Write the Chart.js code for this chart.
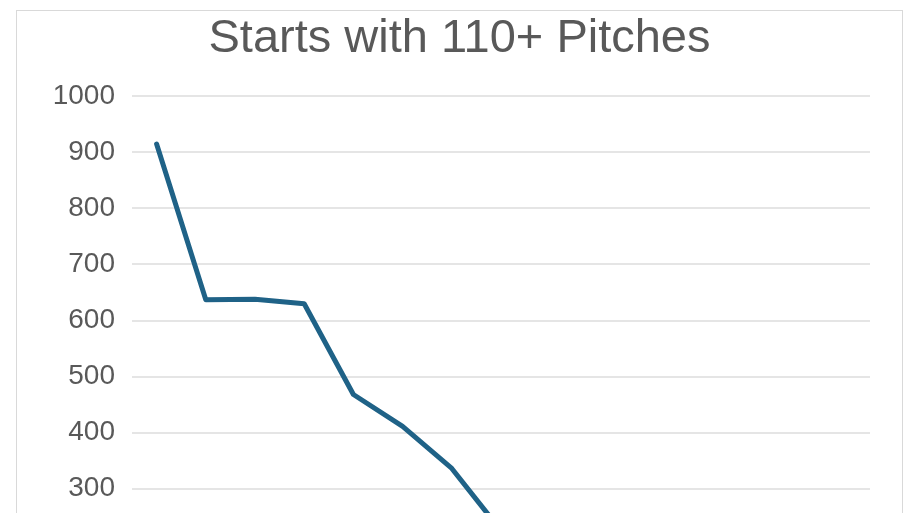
<!DOCTYPE html>
<html>
<head>
<meta charset="utf-8">
<script src="https://cdn.jsdelivr.net/npm/chart.js@4.4.1/dist/chart.umd.min.js"></script>
<style>
  html, body { margin: 0; padding: 0; background: #fff; overflow: hidden; }
  #caja {
    position: absolute;
    left: 16px;
    top: 10px;
    width: 885px;
    height: 739px;
    border: 1px solid #d9d9d9;
    background: #fff;
  }
</style>
</head>
<body>
<div id="caja"><canvas id="grafico"></canvas></div>
<script>
// datos (la parte de abajo queda fuera de la imagen)
const temporadas = ["2002", "2003", "2004", "2005", "2006", "2007", "2008", "2009",
  "2010", "2011", "2012", "2013", "2014", "2015", "2016"];
const inicios110 = [915, 637, 638, 630, 468, 411, 336, 225, 160, 115, 80, 55, 35, 22, 12];
const marcasY = [0, 100, 200, 300, 400, 500, 600, 700, 800, 900, 1000];

const colorLinea = "#1f6287";
const colorTexto = "#595959";
const colorGrilla = "#e5e5e5";
const fuente = "'Liberation Sans', Arial, sans-serif";

const canvas = document.getElementById("grafico");

new Chart(canvas, {
  type: "line",
  data: {
    labels: temporadas,
    datasets: [
      {
        label: "Starts with 110+ Pitches",
        data: inicios110,
        borderColor: colorLinea,
        backgroundColor: colorLinea,
        borderWidth: 5,
        borderJoinStyle: "round",
        borderCapStyle: "round",
        pointRadius: 0,
        tension: 0,
      },
    ],
  },
  options: {
    responsive: true,
    maintainAspectRatio: false,
    animation: false,
    layout: {
      padding: { left: 32, right: 32, top: 0, bottom: 10 },
    },
    plugins: {
      legend: { display: false },
      tooltip: { enabled: false },
      title: {
        display: true,
        text: "Starts with 110+ Pitches",
        color: colorTexto,
        font: { family: fuente, size: 47, weight: "normal" },
        padding: { top: 0, bottom: 29 },
      },
    },
    scales: {
      x: {
        offset: true,
        grid: { display: false },
        border: { display: true, color: "#d9d9d9" },
        ticks: {
          color: colorTexto,
          font: { family: fuente, size: 28 },
        },
      },
      y: {
        min: 0,
        max: 1000,
        afterBuildTicks: (scale) => {
          scale.ticks = marcasY.map((v) => ({ value: v }));
        },
        afterFit: (scale) => {
          scale.width = 83;
        },
        grid: { color: colorGrilla, lineWidth: 2, drawTicks: false },
        border: { display: false },
        ticks: {
          color: colorTexto,
          padding: 17,
          font: { family: fuente, size: 28 },
          callback: (v) => String(v),
        },
      },
    },
  },
});
</script>
</body>
</html>
